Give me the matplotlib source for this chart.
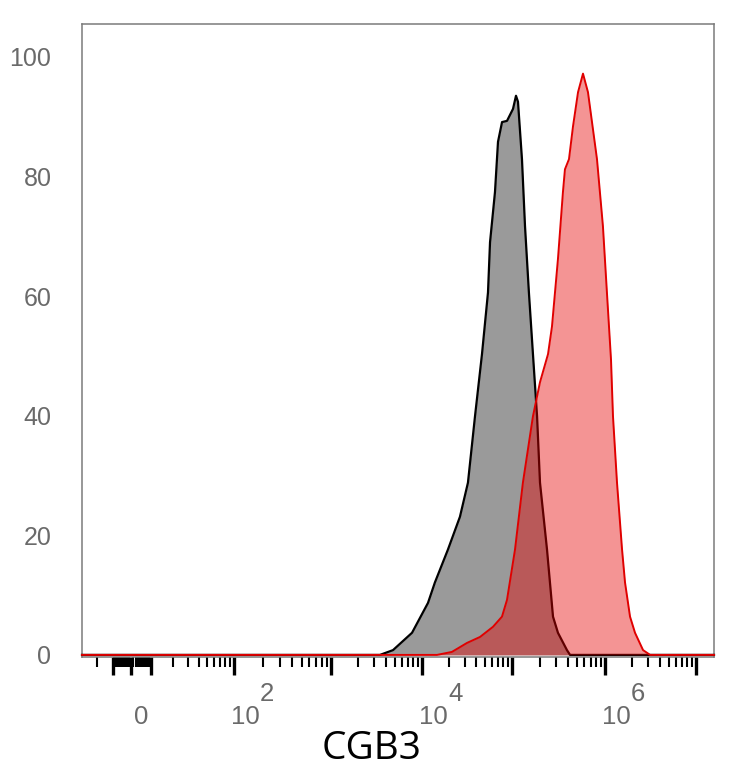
import numpy as np
import matplotlib
matplotlib.use("Agg")
import matplotlib.pyplot as plt
from matplotlib import transforms as mtransforms

# ---------------- data ----------------
black_x = [-60, 3450, 4800, 7770, 11660, 13900, 19400, 26400, 32400, 38800,
           46400, 54100, 57000, 64700, 69900, 77500, 88000, 102500, 110400,
           116000, 128000, 138000, 152000, 168000, 186000, 200000, 238000,
           276000, 312000, 390000, 421000, 1.55e7]
black_y = [0, 0, 0.8, 3.7, 8.7, 12.1, 17.6, 23.1, 28.8, 39.9,
           50.3, 60.6, 69.0, 77.4, 85.8, 89.1, 89.3, 91.3, 93.5,
           92.5, 82.9, 71.7, 60.6, 50.3, 39.9, 28.8, 17.6,
           6.4, 3.7, 0.8, 0, 0]

red_x = [-60, 14680, 21500, 31600, 44100, 61500, 77400, 88000, 107700, 131000,
         168000, 200000, 244000, 269000, 312000, 353000, 371000, 410000,
         453000, 513000, 580000, 656000, 820000, 950000, 1050000, 1164000,
         1224000, 1355000, 1540000, 1660000, 1884000, 2137000, 2620000,
         3130000, 1.55e7]
red_y = [0, 0, 0.5, 2.0, 3.0, 4.7, 6.4, 9.2, 17.6, 28.8,
         39.9, 45.6, 50.3, 54.9, 66.2, 77.4, 81.2, 82.9,
         88.4, 94.1, 97.2, 94.1, 82.9, 71.7, 60.6, 49.4,
         39.9, 28.8, 17.6, 12.1, 6.4, 3.7, 0.8,
         0, 0]

y_ticks = [0, 20, 40, 60, 80, 100]
x_label_values = [0, 1e2, 1e4, 1e6]
x_label_bases = ["0", "10", "10", "10"]
x_label_exps = ["", "2", "4", "6"]
x_title = "CGB3"

# ---------------- biexponential-like axis scale ----------------
C = 10.0
ANCH_X = np.array([-1e3, -60, -20, -10, 0, 10, 1e2, 1e3, 1e4, 1e5, 1e6, 1e7, 1.55e7, 1e9])
ANCH_P = np.array([43, 82, 97, 113, 131, 151, 234, 331, 422, 512, 605, 696, 714, 878], float)
ANCH_U = np.arcsinh(ANCH_X / C)


def fwd(x):
    return np.interp(np.arcsinh(np.asarray(x, float) / C), ANCH_U, ANCH_P)


def inv(p):
    return C * np.sinh(np.interp(np.asarray(p, float), ANCH_P, ANCH_U))


# ---------------- figure ----------------
W, H = 734, 768
fig = plt.figure(figsize=(W / 100, H / 100), dpi=100)
ax_left, ax_right, ax_top, ax_bot = 82, 714, 24, 657
ax = fig.add_axes([ax_left / W, 1 - ax_bot / H, (ax_right - ax_left) / W, (ax_bot - ax_top) / H])
ax.set_xscale("function", functions=(fwd, inv))
ax.set_xlim(-60, 1.55e7)
ax.set_ylim(-0.35, 105.5)

# histograms
ax.fill_between(black_x, black_y, 0, color="#9a9a9a", lw=0, zorder=2)
ax.plot(black_x, black_y, color="black", lw=1.6, zorder=3, clip_on=False,
        solid_joinstyle="round")
ax.fill_between(red_x, red_y, 0, color=(0.9, 0.0, 0.0), alpha=0.42, lw=0, zorder=4)
ax.plot(red_x, red_y, color="#e00000", lw=1.4, zorder=5, clip_on=False,
        solid_joinstyle="round")

# spines
for s in ax.spines.values():
    s.set_color("#7a7a7a")
    s.set_linewidth(1.1)

# y axis: labels only
ax.set_yticks(y_ticks)
ax.set_yticklabels([str(v) for v in y_ticks], fontsize=18, color="#6a6a6a",
                   family=["Liberation Sans", "DejaVu Sans"])
ax.tick_params(axis="y", length=0, pad=22)

# x axis ticks
majors = [-10, 0, 10] + [10.0 ** k for k in range(2, 8)]
minors = [-20] + [v for v in range(-9, 10) if v != 0]
mids = []
for k in range(1, 7):
    for m in range(2, 10):
        v = m * 10.0 ** k
        if m == 5:
            mids.append(v)
        else:
            minors.append(v)
ax.set_xticks(majors)
ax.set_xticks(minors, minor=True)
ax.set_xticklabels([])
ax.tick_params(axis="x", which="major", length=13, width=2.4, color="black", direction="out")
ax.tick_params(axis="x", which="minor", length=7, width=1.5, color="black", direction="out")
ax.vlines(mids, 0, -10 / (ax_bot - ax_top), transform=ax.get_xaxis_transform(),
          colors="black", lw=1.5, clip_on=False)

# x tick labels (FlowJo style, exponent as separate same-size text)
blend = ax.get_xaxis_transform()
ah = ax_bot - ax_top
base_y = -(724 - ax_bot) / ah
exp_y = -(701 - ax_bot) / ah
lab_font = dict(fontsize=18.5, color="#6a6a6a", family=["Liberation Sans", "DejaVu Sans"])
for v, b, e in zip(x_label_values, x_label_bases, x_label_exps):
    if e == "":
        tr = mtransforms.offset_copy(blend, fig=fig, x=10.5, y=0, units="dots")
        ax.text(v, base_y, b, transform=tr, ha="center", va="baseline", **lab_font)
    else:
        tr = mtransforms.offset_copy(blend, fig=fig, x=-3, y=0, units="dots")
        ax.text(v, base_y, b, transform=tr, ha="left", va="baseline", **lab_font)
        tr2 = mtransforms.offset_copy(blend, fig=fig, x=26, y=0, units="dots")
        ax.text(v, exp_y, e, transform=tr2, ha="left", va="baseline", **lab_font)

fig.text(372 / W, 9 / H, x_title, ha="center", va="baseline", fontsize=28,
         family=["Open Sans", "DejaVu Sans"], color="black")

fig.savefig("out.png", dpi=100)
